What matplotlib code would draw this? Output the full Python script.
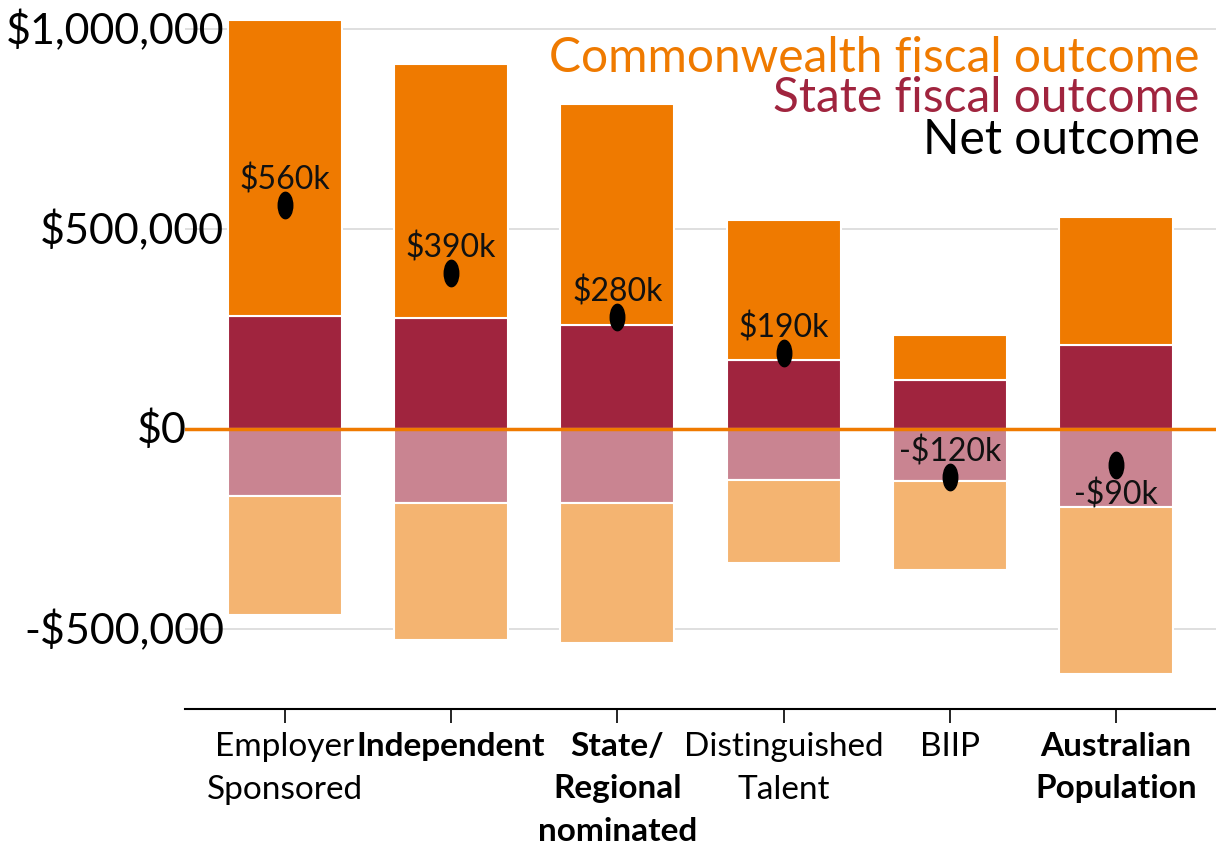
import numpy as np
import matplotlib.pyplot as plt
from matplotlib.path import Path
from matplotlib.transforms import Affine2D, blended_transform_factory

plt.rcParams['font.family'] = ['Lato', 'DejaVu Sans']

categories = ["Employer\nSponsored", "Independent", "State/\nRegional\nnominated",
              "Distinguished\nTalent", "BIIP", "Australian\nPopulation"]
bold_labels = [False, True, True, False, False, True]

# values in $ thousands
state_pos = [284, 279, 261, 172, 124, 211]
comm_pos = [738, 634, 552, 350, 112, 319]
state_neg = [-167, -184, -184, -127, -129, -194]
comm_neg = [-298, -343, -351, -209, -224, -418]
net = [560, 390, 280, 190, -120, -90]
net_labels = ["$560k", "$390k", "$280k", "$190k", "-$120k", "-$90k"]
label_below = [False, False, False, False, False, True]

y_ticks = [-500000, 0, 500000, 1000000]
y_tick_labels = ["-$500,000", "$0", "$500,000", "$1,000,000"]

orange = "#EF7A00"
red = "#A0243E"
pink = "#C98491"
light_orange = "#F4B471"

fig = plt.figure(figsize=(12.16, 8.53), dpi=100)
ax = fig.add_axes([0.152, 0.1676, 0.848, 0.811])

x = np.arange(len(categories))
w = 0.685
sp = np.array(state_pos) * 1000
cp = np.array(comm_pos) * 1000
sn = np.array(state_neg) * 1000
cn = np.array(comm_neg) * 1000

kw = dict(width=w, edgecolor="white", linewidth=1.5, zorder=2)
ax.bar(x, sp, color=red, **kw)
ax.bar(x, cp, bottom=sp, color=orange, **kw)
ax.bar(x, sn, color=pink, **kw)
ax.bar(x, cn, bottom=sn, color=light_orange, **kw)

ax.axhline(0, color=orange, linewidth=2.5, zorder=3)

# net outcome dots (tall ellipse)
ellipse = Path.unit_circle().transformed(Affine2D().scale(0.55, 1.0))
ax.plot(x, np.array(net) * 1000, linestyle="none", marker=ellipse,
        markersize=19, color="black", zorder=5)
for xi, v, lab, below in zip(x, net, net_labels, label_below):
    off = -29 if below else 26
    ax.annotate(lab, (xi, v * 1000), xytext=(0, off), textcoords="offset pixels",
                ha="center", va="center", fontsize=23, color="#111111", zorder=6)

ax.set_xlim(-0.6, 5.6)
ax.set_ylim(-700000, 1030000)

# y labels drawn as text so they sit above the gridlines
ax.set_yticks(y_ticks)
ax.set_yticklabels([])
ax.tick_params(axis="y", length=0)
ax.grid(axis="y", color="#dcdcdc", linewidth=1.3, zorder=0)
ax.set_axisbelow(True)
ytrans = blended_transform_factory(fig.transFigure, ax.transData)
for v, lab in zip(y_ticks, y_tick_labels):
    xr = 187 if v == 0 else 224
    ax.text(xr / 1216, v, lab, transform=ytrans, ha="right", va="center",
            fontsize=31, color="black", zorder=10, clip_on=False)

ax.set_xticks(x)
ax.set_xticklabels(categories, fontsize=24, linespacing=1.55)
for t, b in zip(ax.get_xticklabels(), bold_labels):
    if b:
        t.set_fontweight("bold")
ax.tick_params(axis="x", length=10, width=1.2, pad=6)

for s in ["top", "right", "left"]:
    ax.spines[s].set_visible(False)
ax.spines["bottom"].set_linewidth(1.5)

# legend as coloured text
ax.text(0.984, 0.9220, "Commonwealth fiscal outcome", transform=ax.transAxes,
        ha="right", va="baseline", fontsize=34.5, color=orange)
ax.text(0.984, 0.8640, "State fiscal outcome", transform=ax.transAxes,
        ha="right", va="baseline", fontsize=34.5, color=red)
ax.text(0.984, 0.8035, "Net outcome", transform=ax.transAxes,
        ha="right", va="baseline", fontsize=34.5, color="black")

fig.savefig("out.png", dpi=100)
